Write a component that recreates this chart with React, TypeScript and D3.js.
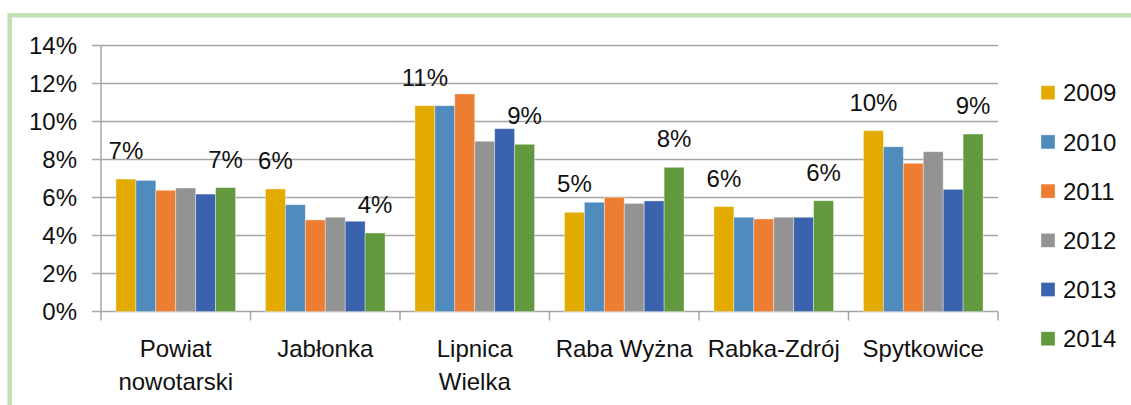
import { useEffect, useRef } from 'react';
import * as d3 from 'd3';

const categories = ['Powiat nowotarski', 'Jabłonka', 'Lipnica Wielka', 'Raba Wyżna', 'Rabka-Zdrój', 'Spytkowice'];
const categoryLines = [['Powiat', 'nowotarski'], ['Jabłonka'], ['Lipnica', 'Wielka'], ['Raba Wyżna'], ['Rabka-Zdrój'], ['Spytkowice']];
const years = ['2009', '2010', '2011', '2012', '2013', '2014'];

// values in percent, one array per year, ordered like categories
const v2009 = [6.97, 6.45, 10.83, 5.22, 5.52, 9.52];
const v2010 = [6.9, 5.62, 10.83, 5.75, 4.96, 8.67];
const v2011 = [6.38, 4.82, 11.45, 6.01, 4.87, 7.8];
const v2012 = [6.5, 4.96, 8.96, 5.69, 4.96, 8.41];
const v2013 = [6.18, 4.75, 9.62, 5.82, 4.96, 6.43];
const v2014 = [6.52, 4.13, 8.8, 7.59, 5.83, 9.34];
const yTicks = [0, 2, 4, 6, 8, 10, 12, 14];

const colors = ['#e3ab00', '#4f8bbd', '#ed7d31', '#939393', '#3b63ad', '#62993e'];

export default function App() {
  const svgRef = useRef<SVGSVGElement>(null);

  useEffect(() => {
    const width = 1131;
    const height = 405;
    const margin = { top: 45.5, right: 133, bottom: 93.5, left: 101 };
    const font = '"Liberation Sans", Arial, sans-serif';
    const fontSize = '24px';
    const series = [v2009, v2010, v2011, v2012, v2013, v2014];
    const rows = categories.map((c, i) => ({
      category: c,
      values: years.map((yr, j) => ({ year: yr, value: series[j][i] })),
    }));

    const x0 = d3
      .scaleBand()
      .domain(categories)
      .range([margin.left, width - margin.right])
      .paddingInner(0)
      .paddingOuter(0);

    const x1 = d3
      .scaleBand()
      .domain(years)
      .range([0, x0.bandwidth()])
      .paddingInner(0)
      .paddingOuter(0.75);

    const y = d3
      .scaleLinear()
      .domain([0, 14])
      .range([height - margin.bottom, margin.top]);

    const color = d3.scaleOrdinal<string, string>().domain(years).range(colors);

    const svg = d3.select(svgRef.current);
    svg.selectAll('*').remove();

    svg.append('rect').attr('width', width).attr('height', height).attr('fill', '#fff');

    // green frame
    svg
      .append('rect')
      .attr('x', 9.75)
      .attr('y', 15.25)
      .attr('width', 1300)
      .attr('height', 600)
      .attr('fill', 'none')
      .attr('stroke', '#c5e0b4')
      .attr('stroke-width', 4.5);

    // gridlines
    svg
      .append('g')
      .selectAll('line')
      .data(yTicks)
      .enter()
      .append('line')
      .attr('x1', margin.left - 9)
      .attr('x2', width - margin.right)
      .attr('y1', d => y(d))
      .attr('y2', d => y(d))
      .attr('stroke', '#a6a6a6')
      .attr('stroke-width', 1.5);

    // y axis line
    svg
      .append('line')
      .attr('x1', margin.left)
      .attr('x2', margin.left)
      .attr('y1', y(14))
      .attr('y2', y(0))
      .attr('stroke', '#a6a6a6')
      .attr('stroke-width', 1.5);

    // y labels
    svg
      .append('g')
      .selectAll('text')
      .data(yTicks)
      .enter()
      .append('text')
      .attr('x', 77)
      .attr('y', d => y(d))
      .attr('dy', '0.36em')
      .attr('text-anchor', 'end')
      .style('font-family', font)
      .style('font-size', fontSize)
      .attr('fill', '#111')
      .text(d => `${d}%`);

    // x ticks at group boundaries
    const bounds = categories.map(c => x0(c)!).concat([width - margin.right]);
    svg
      .append('g')
      .selectAll('line')
      .data(bounds)
      .enter()
      .append('line')
      .attr('x1', d => d)
      .attr('x2', d => d)
      .attr('y1', y(0))
      .attr('y2', y(0) + 9)
      .attr('stroke', '#a6a6a6')
      .attr('stroke-width', 1.5);

    // bars
    const groups = svg
      .append('g')
      .selectAll('g')
      .data(rows)
      .enter()
      .append('g')
      .attr('transform', d => `translate(${x0(d.category)},0)`);

    groups
      .selectAll('rect')
      .data(d => d.values)
      .enter()
      .append('rect')
      .attr('x', d => x1(d.year)!)
      .attr('y', d => y(d.value))
      .attr('width', x1.bandwidth())
      .attr('height', d => y(0) - y(d.value))
      .attr('fill', d => color(d.year))
      .attr('stroke', 'rgba(255,255,255,0.45)')
      .attr('stroke-width', 0.8);

    // data labels on first and last year
    groups
      .selectAll('text')
      .data(d => [d.values[0], d.values[d.values.length - 1]])
      .enter()
      .append('text')
      .attr('x', d => x1(d.year)! + x1.bandwidth() / 2)
      .attr('y', d => y(d.value) - 20)
      .attr('text-anchor', 'middle')
      .style('font-family', font)
      .style('font-size', fontSize)
      .attr('fill', '#111')
      .text(d => `${Math.round(d.value)}%`);

    // category labels
    svg
      .append('g')
      .selectAll('text')
      .data(categories)
      .enter()
      .append('text')
      .attr('x', d => x0(d)! + x0.bandwidth() / 2)
      .attr('y', 357)
      .attr('text-anchor', 'middle')
      .style('font-family', font)
      .style('font-size', fontSize)
      .attr('fill', '#111')
      .each(function (d, i) {
        d3.select(this)
          .selectAll('tspan')
          .data(categoryLines[i])
          .enter()
          .append('tspan')
          .attr('x', x0(d)! + x0.bandwidth() / 2)
          .attr('dy', (_, k) => (k === 0 ? 0 : 33))
          .text(t => t);
      });

    // legend
    const legend = svg
      .append('g')
      .selectAll('g')
      .data(years)
      .enter()
      .append('g')
      .attr('transform', (_, i) => `translate(1041,${92.7 + i * 49.2})`);

    legend
      .append('rect')
      .attr('x', 0)
      .attr('y', -7)
      .attr('width', 14)
      .attr('height', 14)
      .attr('fill', d => color(d))
      .attr('stroke', 'rgba(255,255,255,0.45)')
      .attr('stroke-width', 0.8);

    legend
      .append('text')
      .attr('x', 22)
      .attr('y', 0)
      .attr('dy', '0.36em')
      .style('font-family', font)
      .style('font-size', fontSize)
      .attr('fill', '#111')
      .text(d => d);
  }, []);

  return (
    <svg
      ref={svgRef}
      width={1131}
      height={405}
      style={{ position: 'absolute', left: 0, top: 0 }}
    ></svg>
  );
}
